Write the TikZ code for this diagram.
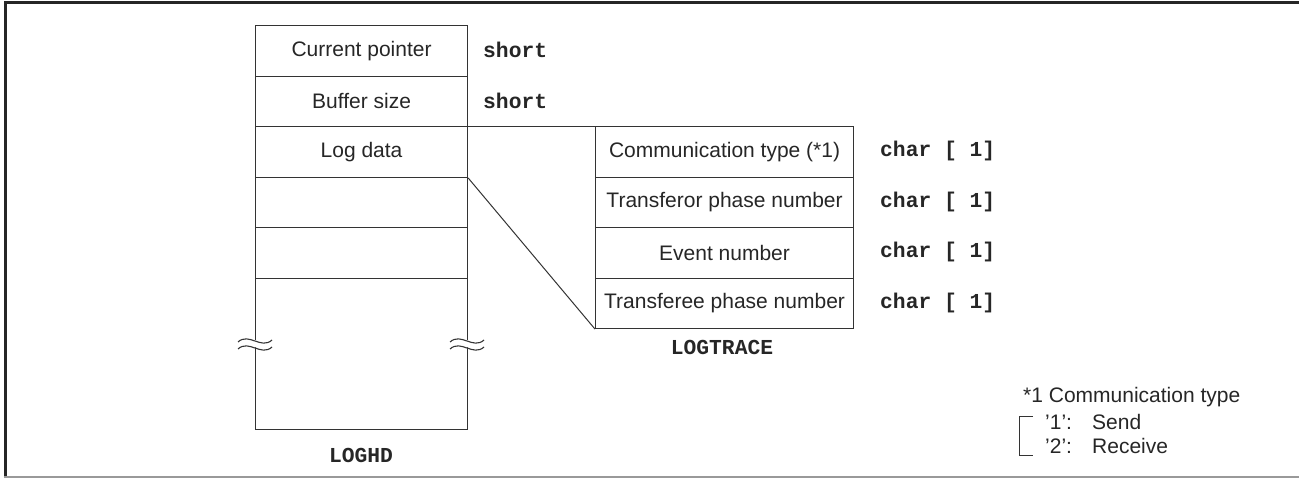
\documentclass[tikz,border=0pt]{standalone}
\usepackage{fontspec}
\setmainfont{Liberation Sans}
\newfontfamily\monob{Liberation Mono}[BoldFont={Liberation Mono Bold}]
\begin{document}
\begin{tikzpicture}[x=1pt,y=-1pt,
  txt/.style={font=\fontsize{21}{24}\selectfont, text=black!85},
  cell/.style={draw=black!80, line width=1.1pt, rectangle, inner sep=0pt, anchor=north west, txt},
  hdcell/.style={cell, minimum width=212pt, minimum height=50.6pt},
  trcell/.style={cell, minimum width=258pt, minimum height=50.45pt},
  typ/.style={anchor=west, inner sep=0pt, font=\monob\bfseries\fontsize{21.3}{24}\selectfont, text=black!85},
  ttl/.style={anchor=center, inner sep=0pt, font=\monob\bfseries\fontsize{21.3}{24}\selectfont, text=black!85},
  note/.style={anchor=west, inner sep=0pt, txt},
  conn/.style={draw=black!80, line width=1pt},
  wave/.style={draw=black!80, line width=1.1pt}
]
\useasboundingbox (0,0) rectangle (1299,478);
% frame
\draw[black!85, line width=3pt] (5,478) -- (5,3) -- (1299,3);
\draw[black!40, line width=1.5pt] (3.5,477) -- (1299,477);

% LOGHD
\node[hdcell] (cp) at (255,25) {Current pointer};
\node[hdcell] (bs) at (255,75.6) {Buffer size};
\node[hdcell] (ld) at (255,126.2) {Log data};
\node[hdcell] (e1) at (255,176.8) {};
\node[hdcell] (e2) at (255,227.4) {};
\node[cell, minimum width=212pt, minimum height=151pt] (rest) at (255,278) {};
% breaks
\foreach \bx in {238,450}{
  \fill[white] (\bx+6,339) .. controls (\bx+12,333) and (\bx+22,347) .. (\bx+28,341)
       -- (\bx+28,348) .. controls (\bx+22,354) and (\bx+12,340) .. (\bx+6,346) -- cycle;
  \draw[wave] (\bx,342) .. controls (\bx+11,332) and (\bx+23,350) .. (\bx+34,340);
  \draw[wave] (\bx,349) .. controls (\bx+11,339) and (\bx+23,357) .. (\bx+34,347);
}
\node[ttl] (loghd) at (361,455) {LOGHD};
\node[typ] (t1) at (483,50.3) {short};
\node[typ] (t2) at (483,100.9) {short};

% LOGTRACE
\node[trcell] (ct) at (595,126.2) {Communication type (*1)};
\node[trcell] (tp) at (595,176.65) {Transferor phase number};
\node[trcell] (ev) at (595,227.1) {Event number};
\node[trcell] (te) at (595,277.55) {Transferee phase number};
\node[ttl] (logtrace) at (722,347) {LOGTRACE};
\node[typ] (c1) at (880,151.4) {char [ 1]};
\node[typ] (c2) at (880,201.9) {char [ 1]};
\node[typ] (c3) at (880,252.3) {char [ 1]};
\node[typ] (c4) at (880,302.8) {char [ 1]};

% connectors
\draw[conn] (ld.north east) -- (ct.north west);
\draw[conn] (ld.south east) -- (te.south west);

% footnote
\node[note] (n0) at (1023,397) {*1 Communication type};
\node[note] (n1) at (1045,422) {’1’:};
\node[note] (n1b) at (1092,422) {Send};
\node[note] (n2) at (1045,446) {’2’:};
\node[note] (n2b) at (1092,446) {Receive};
\draw[black!80, line width=1pt] (1033,416) -- (1019,416) -- (1019,455) -- (1033,455);
\end{tikzpicture}
\end{document}
